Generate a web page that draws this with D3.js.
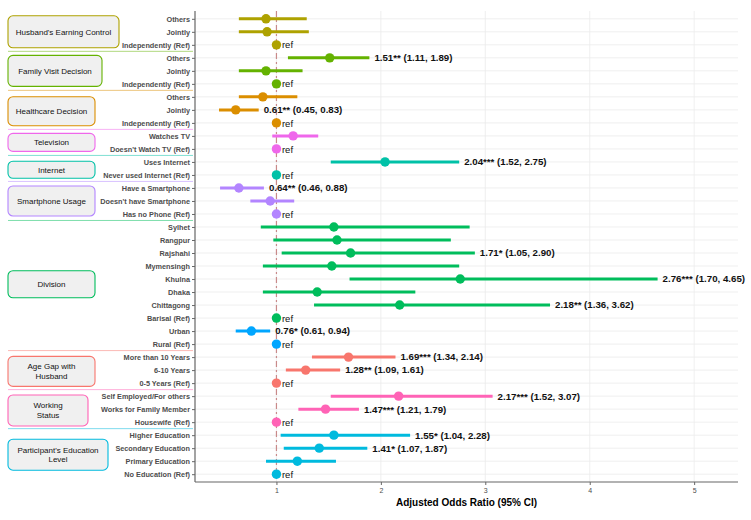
<!DOCTYPE html>
<html>
<head>
<meta charset="utf-8">
<script src="https://cdn.jsdelivr.net/npm/d3@7"></script>
<style>
  body { margin: 0; background: #fff; }
  svg { display: block; font-family: 'Liberation Sans', Arial, sans-serif; }
  .axis--y text { font-size: 7.3px; font-weight: bold; fill: #4d4d4d; }
  .axis--x text { font-size: 7px; fill: #4d4d4d; }
  .axis path, .axis line { stroke: #666; }
  .grid line { stroke: #ebebeb; stroke-width: 0.8; }
  .est-label { font-size: 9.7px; font-weight: bold; fill: #111; }
  .ref-label { font-size: 9.5px; fill: #111; }
  .box-label { font-size: 8px; fill: #111; }
  .axis-title { font-size: 10px; font-weight: bold; fill: #000; }
</style>
</head>
<body>
<svg width="751" height="520"></svg>
<script>
(function(d3) {
  'use strict';

  // Rows, top to bottom.
  const rowLabels = [
    'Others', 'Jointly', 'Independently (Ref)',
    'Others', 'Jointly', 'Independently (Ref)',
    'Others', 'Jointly', 'Independently (Ref)',
    'Watches TV', 'Doesn\'t Watch TV (Ref)',
    'Uses Internet', 'Never used Internet (Ref)',
    'Have a Smartphone', 'Doesn\'t have Smartphone', 'Has no Phone (Ref)',
    'Sylhet', 'Rangpur', 'Rajshahi', 'Mymensingh', 'Khulna', 'Dhaka',
    'Chittagong', 'Barisal (Ref)',
    'Urban', 'Rural (Ref)',
    'More than 10 Years', '6-10 Years', '0-5 Years (Ref)',
    'Self Employed/For others', 'Works for Family Member', 'Housewife (Ref)',
    'Higher Education', 'Secondary Education', 'Primary Education',
    'No Education (Ref)',
  ];

  // Groups (box text, '' = no box) and how many rows each one has.
  const groupNames = [
    'Husband\'s Earning Control', 'Family Visit Decision',
    'Healthcare Decision', 'Television', 'Internet', 'Smartphone Usage',
    'Division', '', 'Age Gap with\nHusband', 'Working\nStatus',
    'Participant\'s Education\nLevel',
  ];
  const groupSizes = [3, 3, 3, 2, 2, 3, 8, 2, 3, 3, 4];

  // Estimates; null = reference category.
  const oddsRatio = [
    0.90, 0.91, 1,
    1.51, 0.90, 1,
    0.87, 0.61, 1,
    1.16, 1,
    2.04, 1,
    0.64, 0.94, 1,
    1.55, 1.58, 1.71, 1.53, 2.76, 1.39, 2.18, 1,
    0.76, 1,
    1.69, 1.28, 1,
    2.17, 1.47, 1,
    1.55, 1.41, 1.20, 1,
  ];
  const ciLower = [
    0.64, 0.64, null,
    1.11, 0.64, null,
    0.64, 0.45, null,
    0.96, null,
    1.52, null,
    0.46, 0.75, null,
    0.85, 0.97, 1.05, 0.87, 1.70, 0.87, 1.36, null,
    0.61, null,
    1.34, 1.09, null,
    1.52, 1.21, null,
    1.04, 1.07, 0.90, null,
  ];
  const ciUpper = [
    1.29, 1.31, null,
    1.89, 1.25, null,
    1.20, 0.83, null,
    1.40, null,
    2.75, null,
    0.88, 1.17, null,
    2.85, 2.67, 2.90, 2.75, 4.65, 2.33, 3.62, null,
    0.94, null,
    2.14, 1.61, null,
    3.07, 1.79, null,
    2.28, 1.87, 1.57, null,
  ];
  const stars = [
    '', '', '',
    '**', '', '',
    '', '**', '',
    '', '',
    '***', '',
    '**', '', '',
    '', '', '*', '', '***', '', '**', '',
    '*', '',
    '***', '**', '',
    '***', '***', '',
    '*', '*', '', '',
  ];

  const xTicks = [1, 2, 3, 4, 5];
  const xDomain = [0.22, 5.42];

  const groupColors = [
    '#AEA200', '#64B200', '#DB8E00', '#EF67EB', '#00C1A7', '#B385FF',
    '#00BD5C', '#00A6FF', '#F8766D', '#FF63B6', '#00BADE',
  ];
  // Box layout for the group labels on the left.
  const boxWidths = [111, 94, 87, 87, 87, 87, 87, 0, 87, 80, 100];
  const boxHeights = [32, 31, 29, 18, 17, 30, 27, 0, 30, 31, 31];
  const boxCenters = [1, 4, 7.1, 9.5, 11.6, 14, 20.4, 0, 27.1, 30.1, 33.5];

  const rowGroup = [];
  const groupStart = [];
  groupSizes.forEach(function(n, gi) {
    groupStart.push(rowGroup.length);
    for (let k = 0; k < n; k++) rowGroup.push(gi);
  });

  const panel = {left: 195, right: 738, top: 11, bottom: 482};

  const svg = d3.select('svg');
  const g = svg.append('g');

  const rows = d3.range(rowLabels.length);
  const xScale = d3.scaleLinear().domain(xDomain).range([panel.left, panel.right]);
  const yScale = d3.scalePoint().domain(rows)
      .range([panel.top, panel.bottom]).padding(0.6);
  const step = yScale.step();

  // Grid
  const grid = g.append('g').attr('class', 'grid');
  grid.selectAll('line.h').data(rows).enter().append('line')
      .attr('class', 'h')
      .attr('x1', panel.left).attr('x2', panel.right)
      .attr('y1', (d) => yScale(d)).attr('y2', (d) => yScale(d));
  grid.selectAll('line.v').data(xTicks).enter().append('line')
      .attr('class', 'v')
      .attr('x1', (d) => xScale(d)).attr('x2', (d) => xScale(d))
      .attr('y1', panel.top).attr('y2', panel.bottom);

  // Reference line at OR = 1
  g.append('line')
      .attr('x1', xScale(1)).attr('x2', xScale(1))
      .attr('y1', panel.top).attr('y2', panel.bottom)
      .attr('stroke', '#c98a8a').attr('stroke-width', 1.2)
      .attr('stroke-dasharray', '6,3,2,3');

  // Group separators and boxes
  const sideG = g.append('g');
  groupNames.forEach(function(name, gi) {
    if (!name) return;
    const color = groupColors[gi];
    if (gi > 0) {
      const ys = yScale(groupStart[gi]) - step / 2;
      sideG.append('line')
          .attr('x1', 8).attr('x2', 193).attr('y1', ys).attr('y2', ys)
          .attr('stroke', color).attr('stroke-opacity', 0.5)
          .attr('stroke-width', 1);
    }
    const cy = yScale(0) + boxCenters[gi] * step;
    const w = boxWidths[gi];
    const h = boxHeights[gi];
    sideG.append('rect')
        .attr('x', 8).attr('y', cy - h / 2)
        .attr('width', w).attr('height', h)
        .attr('rx', 5).attr('ry', 5)
        .attr('fill', '#f0f0f0')
        .attr('stroke', color).attr('stroke-width', 1.1);
    const lines = name.split('\n');
    const lh = 9.7;
    sideG.append('text')
        .attr('class', 'box-label')
        .attr('text-anchor', 'middle')
        .attr('x', 8 + w / 2)
        .selectAll('tspan').data(lines).enter().append('tspan')
        .attr('x', 8 + w / 2)
        .attr('y', (d, i) => cy + (i - (lines.length - 1) / 2) * lh)
        .attr('dy', '0.35em')
        .text((d) => d);
  });

  // Confidence intervals
  const ciRows = rows.filter((i) => ciLower[i] !== null);
  g.append('g').selectAll('line').data(ciRows).enter().append('line')
      .attr('x1', (i) => xScale(ciLower[i]))
      .attr('x2', (i) => xScale(ciUpper[i]))
      .attr('y1', (i) => yScale(i)).attr('y2', (i) => yScale(i))
      .attr('stroke', (i) => groupColors[rowGroup[i]])
      .attr('stroke-width', 3);

  // Points
  g.append('g').selectAll('circle').data(rows).enter().append('circle')
      .attr('cx', (i) => xScale(oddsRatio[i]))
      .attr('cy', (i) => yScale(i))
      .attr('r', 4.7)
      .attr('fill', (i) => groupColors[rowGroup[i]]);

  // Labels for significant estimates
  const fmt = d3.format('.2f');
  g.append('g').selectAll('text')
      .data(rows.filter((i) => stars[i] !== ''))
      .enter().append('text')
      .attr('class', 'est-label')
      .attr('x', (i) => xScale(ciUpper[i]) + 5)
      .attr('y', (i) => yScale(i))
      .attr('dy', '0.35em')
      .text((i) => fmt(oddsRatio[i]) + stars[i] +
          ' (' + fmt(ciLower[i]) + ', ' + fmt(ciUpper[i]) + ')');

  // "ref" labels
  g.append('g').selectAll('text')
      .data(rows.filter((i) => ciLower[i] === null))
      .enter().append('text')
      .attr('class', 'ref-label')
      .attr('x', xScale(1) + 5.5)
      .attr('y', (i) => yScale(i))
      .attr('dy', '0.38em')
      .text('ref');

  // Axes
  const yAxis = d3.axisLeft(yScale)
      .tickFormat((i) => rowLabels[i])
      .tickSize(3).tickSizeOuter(0).tickPadding(2);
  const yAxisG = g.append('g').attr('class', 'axis axis--y')
      .attr('transform', `translate(${panel.left},0)`)
      .call(yAxis);
  yAxisG.select('.domain').remove();
  g.append('line').attr('class', 'axis-line')
      .attr('x1', panel.left).attr('x2', panel.left)
      .attr('y1', panel.top).attr('y2', panel.bottom)
      .attr('stroke', '#666').attr('stroke-width', 1.2);

  const xAxis = d3.axisBottom(xScale).tickValues(xTicks)
      .tickFormat(d3.format('d'))
      .tickSize(3).tickSizeOuter(0).tickPadding(3);
  const xAxisG = g.append('g').attr('class', 'axis axis--x')
      .attr('transform', `translate(0,${panel.bottom})`)
      .call(xAxis);
  xAxisG.select('.domain').remove();
  g.append('line')
      .attr('x1', panel.left).attr('x2', panel.right)
      .attr('y1', panel.bottom).attr('y2', panel.bottom)
      .attr('stroke', '#666').attr('stroke-width', 1.2);

  g.append('text')
      .attr('class', 'axis-title')
      .attr('x', (panel.left + panel.right) / 2)
      .attr('y', 506)
      .attr('text-anchor', 'middle')
      .text('Adjusted Odds Ratio (95% CI)');
}(d3));
</script>
</body>
</html>
